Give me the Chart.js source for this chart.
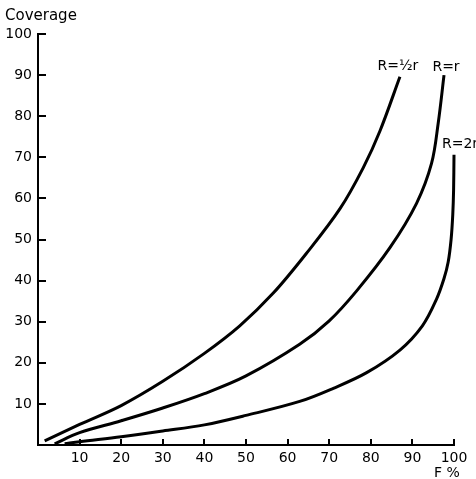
<!DOCTYPE html>
<html>
<head>
<meta charset="utf-8">
<script src="https://cdn.jsdelivr.net/npm/chart.js@4"></script>
<style>
  html, body { margin: 0; padding: 0; background: #fff; }
  canvas { display: block; }
</style>
</head>
<body>
<canvas id="coverageChart" width="476" height="479"></canvas>
<script>
// curve values (F % -> coverage)
const fHalf   = [1.6, 10, 20, 30, 40, 48.5, 56.5, 64.5, 72.6, 78.2, 82.2, 87];
const covHalf = [1, 5, 9.6, 15.5, 22.3, 29, 36.9, 46.6, 57.5, 67.5, 76.4, 89.6];

const fR   = [4, 10, 20, 30, 40, 50, 62.9, 70, 76.6, 84.6, 91, 94.6, 96.2, 97.6];
const covR = [0.3, 3, 5.9, 9, 12.5, 16.8, 24.5, 30.2, 37.5, 48, 58.8, 68.5, 78.3, 90];

const f2R   = [6.4, 10, 20, 30, 40, 50, 62.9, 71, 79, 87, 92.4, 95.8, 97.6, 98.6, 99.3, 99.7, 99.9, 100];
const cov2R = [0.3, 0.8, 2, 3.4, 4.9, 7.2, 10.6, 13.8, 17.6, 23.1, 29, 35.5, 40.5, 44.5, 50, 56, 62, 70.6];

const seriesNames = ['R=½r', 'R=r', 'R=2r'];
const tickValues  = [10, 20, 30, 40, 50, 60, 70, 80, 90, 100];

const toPoints = (xs, ys) => xs.map((x, i) => ({ x, y: ys[i] }));
const FONT = '"DejaVu Sans", sans-serif';

const curve = (label, xs, ys) => ({
  label,
  data: toPoints(xs, ys),
  showLine: true,
  borderColor: '#000',
  borderWidth: 3,
  pointRadius: 0,
  tension: 0.35,
  clip: false
});

// inward ticks + text annotations
const annotations = {
  id: 'annotations',
  afterDraw(chart) {
    const { ctx, chartArea, scales: { x, y } } = chart;
    ctx.save();
    ctx.strokeStyle = '#000';
    ctx.lineWidth = 2;
    ctx.beginPath();
    tickValues.forEach(v => {
      const px = Math.round(x.getPixelForValue(v));
      ctx.moveTo(px, chartArea.bottom);
      ctx.lineTo(px, chartArea.bottom - 6);
      const py = Math.round(y.getPixelForValue(v));
      ctx.moveTo(chartArea.left, py);
      ctx.lineTo(chartArea.left + 8, py);
    });
    ctx.stroke();

    ctx.fillStyle = '#000';
    ctx.font = '14px ' + FONT;
    ctx.textBaseline = 'middle';

    // curve labels next to the last point of each curve
    const ends = chart.data.datasets.map(ds => {
      const p = ds.data[ds.data.length - 1];
      return { x: x.getPixelForValue(p.x), y: y.getPixelForValue(p.y) };
    });
    ctx.textAlign = 'center';
    ctx.fillText(seriesNames[0], ends[0].x - 2, ends[0].y - 10);
    ctx.fillText(seriesNames[1], ends[1].x + 2, ends[1].y - 8);
    ctx.textAlign = 'left';
    ctx.fillText(seriesNames[2], ends[2].x - 12, ends[2].y - 10);

    // axis titles
    ctx.textAlign = 'left';
    ctx.font = '15px ' + FONT;
    ctx.fillText('Coverage', 5, chartArea.top - 18);
    ctx.font = '14px ' + FONT;
    ctx.textAlign = 'center';
    ctx.fillText('F %', chartArea.right - 7, chart.height - 6);
    ctx.restore();
  }
};

new Chart(document.getElementById('coverageChart'), {
  type: 'scatter',
  data: {
    datasets: [
      curve(seriesNames[0], fHalf, covHalf),
      curve(seriesNames[1], fR, covR),
      curve(seriesNames[2], f2R, cov2R)
    ]
  },
  options: {
    responsive: false,
    animation: false,
    layout: { padding: { top: 34, right: 22, left: 0, bottom: 0 } },
    plugins: { legend: { display: false }, tooltip: { enabled: false } },
    scales: {
      x: {
        type: 'linear', min: 0, max: 100,
        afterFit: s => { s.height = 34; },
        grid: { display: false, drawTicks: false },
        border: { display: true, color: '#000', width: 2 },
        ticks: {
          stepSize: 10, padding: 5, color: '#000', maxRotation: 0,
          font: { family: FONT, size: 14 },
          callback: v => (v === 0 ? '' : v)
        }
      },
      y: {
        type: 'linear', min: 0, max: 100,
        afterFit: s => { s.width = 38; },
        grid: { display: false, drawTicks: false },
        border: { display: true, color: '#000', width: 2 },
        ticks: {
          stepSize: 10, padding: 6, color: '#000',
          font: { family: FONT, size: 14 },
          callback: v => (v === 0 ? '' : v)
        }
      }
    }
  },
  plugins: [annotations]
});
</script>
</body>
</html>
